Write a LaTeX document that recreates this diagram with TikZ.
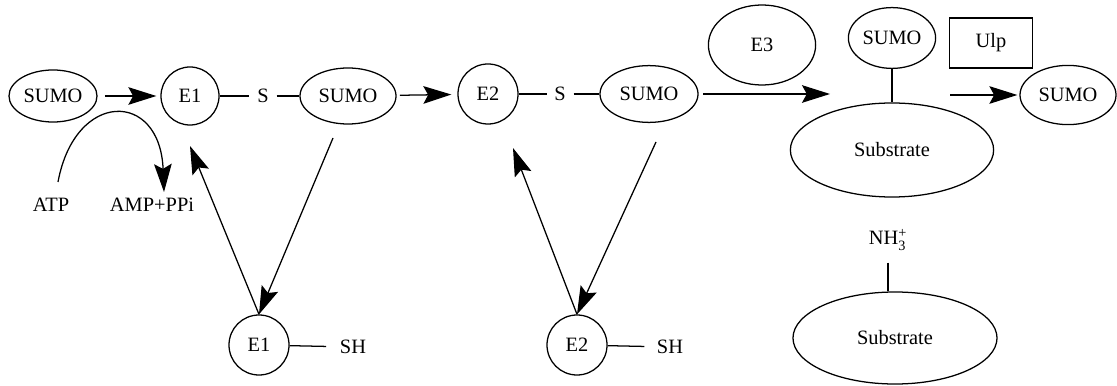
\documentclass[tikz,border=0pt]{standalone}
\usepackage{fontspec}
\setmainfont{Liberation Serif}
\usepackage{amsmath}
\usepackage{tikz}
\usetikzlibrary{positioning,shapes.geometric,arrows.meta}

\begin{document}
\begin{tikzpicture}[x=0.025cm,y=-0.025cm,line width=0.9pt,
		every node/.style={font=\fontsize{14.5}{17}\selectfont},
		ell/.style={ellipse, draw=black, inner sep=0pt},
		circ/.style={circle, draw=black, inner sep=0pt, minimum size=1.5cm},
		lbl/.style={inner xsep=0.18cm, inner ysep=0pt},
		arr/.style={-{Stealth[length=0.7cm,width=0.44cm,inset=0.12cm]}}]
			\useasboundingbox (0,0) rectangle (1117,386);
			% first step
			\node[ell, minimum width=2.2cm, minimum height=1.3cm] (sumoa) at (53,96) {SUMO};
			\node[circ, minimum size=1.45cm] (e1) at (190,96) {E1};
			\node[lbl] (sa) at (263,96) {S};
			\node[ell, minimum width=2.4cm, minimum height=1.4cm] (sumob) at (348,96) {SUMO};
			\node (atp) at (51,205) {ATP};
			\node (amp) at (152,205) {AMP+PPi};
			\coordinate (ca) at (58,182);
			\coordinate (cb) at (164,192);
			% second step
			\node[circ] (e2) at (488,94) {E2};
			\node[lbl] (sb) at (560,94) {S};
			\node[ell, minimum width=2.45cm, minimum height=1.42cm] (sumoc) at (649,94) {SUMO};
			% free enzymes
			\node[circ] (e1b) at (259,345) {E1};
			\node[lbl, inner xsep=0.33cm] (sha) at (353,347) {SH};
			\node[circ] (e2b) at (577,345) {E2};
			\node[lbl, inner xsep=0.3cm] (shb) at (670,347) {SH};
			\coordinate (da) at (333,138);
			\coordinate (ua) at (190,146);
			\coordinate (db) at (656,142);
			\coordinate (ub) at (513,148);
			% E3 and substrate
			\node[ell, minimum width=2.68cm, minimum height=2cm] (e3) at (762,45) {E3};
			\node[ell, minimum width=2.18cm, minimum height=1.52cm] (sumod) at (892,38) {SUMO};
			\node[rectangle, draw=black, minimum width=2.08cm, minimum height=1.25cm] (ulp) at (991,43) {Ulp};
			\node[ell, minimum width=5.08cm, minimum height=2.35cm] (suba) at (892,150) {Substrate};
			\node[ell, minimum width=2.4cm, minimum height=1.48cm] (sumoe) at (1068,95) {SUMO};
			\node (nh) at (888,240) {NH$_{\text{3}}^{\text{+}}$};
			\node[ell, minimum width=5.1cm, minimum height=2.3cm] (subb) at (895,338) {Substrate};
			\coordinate (ta) at (830,94);
			\coordinate (tb) at (950,95);

			\draw[arr, shorten <=0.18cm, shorten >=0.1cm] (sumoa) -- (e1);
			\draw (e1) -- (sa) -- (sumob);
			\draw[arr] (ca) .. controls (75,90) and (160,90) .. (cb);
			\draw[arr, shorten <=0.08cm, shorten >=0.15cm] (sumob) -- (e2);
			\draw (e2) -- (sb) -- (sumoc);
			\draw[arr] (da) -- (e1b.north);
			\draw[arr] (e1b.north) -- (ua);
			\draw[arr] (db) -- (e2b.north);
			\draw[arr] (e2b.north) -- (ub);
			\draw (e1b) -- (sha);
			\draw (e2b) -- (shb);
			\draw[arr, shorten <=0.12cm] (sumoc) -- (ta);
			\draw (sumod) -- (suba);
			\draw[arr, shorten >=0.05cm] (tb) -- (sumoe);
			\draw[shorten <=0.17cm] (nh) -- (nh |- subb.north);
		\end{tikzpicture}
\end{document}
